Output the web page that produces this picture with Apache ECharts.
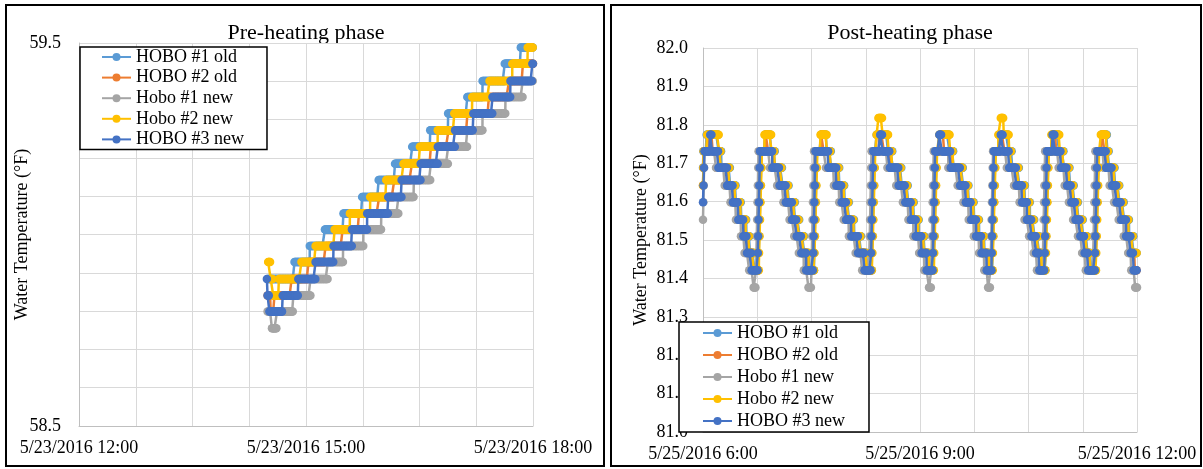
<!DOCTYPE html>
<html>
<head>
<meta charset="utf-8">
<script src="https://cdn.jsdelivr.net/npm/echarts@6.0.0/dist/echarts.min.js"></script>
<style>
html,body{margin:0;padding:0;background:#fff;}
#chart{width:1203px;height:469px;}
</style>
</head>
<body>
<div id="chart"></div>
<script>
// ---------- DATA ----------
const seriesNames = ['HOBO #1 old', 'HOBO #2 old', 'Hobo #1 new', 'Hobo #2 new', 'HOBO #3 new'];
const preTickLabels = ['5/23/2016 12:00', '5/23/2016 15:00', '5/23/2016 18:00'];
const postTickLabels = ['5/25/2016 6:00', '5/25/2016 9:00', '5/25/2016 12:00'];
const preTitle = 'Pre-heating phase';
const postTitle = 'Post-heating phase';
const yName = 'Water Temperature (°F)';

// Logger records: [minutes after start of window, reading held from that time], one reading every 0.5 min
const READ_STEP = 0.5;
const WINDOW_END = 360;

// Pre-heating, minutes after 5/23/2016 12:00
const preHobo1Old = [[149.5,58.884],[170.9,58.928],[183,58.970],[195,59.013],[209.7,59.055],[224.5,59.098],[237.6,59.142],[250.6,59.185],[264.2,59.229],[278.5,59.272],[292.7,59.316],[307.9,59.359],[320,59.401],[337.6,59.446],[350.3,59.488]];
const preHobo2Old = [[149.5,58.841],[152,58.799],[155,58.841],[168.6,58.884],[182,58.928],[195.5,58.970],[209,59.013],[222,59.055],[238,59.098],[250,59.142],[264,59.185],[279,59.229],[293,59.272],[308,59.316],[325,59.359],[341,59.401],[352,59.446]];
const preHobo1New = [[149.5,58.799],[153,58.755],[157,58.799],[170,58.841],[183.6,58.884],[197.3,58.928],[209.4,58.970],[225.5,59.013],[239.7,59.055],[253.3,59.098],[265.5,59.142],[279,59.185],[292.7,59.229],[307.9,59.272],[320,59.316],[338.2,59.359],[351.8,59.401]];
const preHobo2New = [[150,58.928],[152,58.884],[154,58.841],[158.5,58.884],[176.4,58.928],[187.6,58.970],[202.7,59.013],[214.8,59.055],[230.9,59.098],[243.6,59.142],[257.3,59.185],[270.3,59.229],[284.5,59.272],[297.6,59.316],[311.8,59.359],[325.5,59.401],[343.6,59.446],[355.8,59.488]];
const preHobo3New = [[149,58.884],[149.5,58.841],[151,58.799],[161.5,58.841],[173.9,58.884],[187.6,58.928],[201.8,58.970],[216.4,59.013],[228.5,59.055],[245.2,59.098],[255.8,59.142],[270.9,59.185],[284.5,59.229],[298.2,59.272],[312.7,59.316],[327.9,59.359],[342.1,59.401],[359.5,59.446]];

// Post-heating, minutes after 5/25/2016 6:00
const postHobo1Old = [
[0,81.688],[0.3,81.731],[3,81.774],[13,81.731],[15.3,81.688],[22.5,81.642],[27.3,81.598],[31.8,81.553],[36,81.510],[39,81.466],[42.8,81.421],
[46.2,81.466],[46.6,81.510],[47,81.553],[47.4,81.598],[47.8,81.642],[48.2,81.688],[48.6,81.731],[51.5,81.774],[56.5,81.731],[60,81.688],[66,81.642],[71.2,81.598],[76.3,81.553],[80.2,81.510],[84,81.466],[88.1,81.421],
[92.2,81.466],[92.6,81.510],[93,81.553],[93.4,81.598],[93.8,81.642],[94.2,81.688],[94.6,81.731],[98,81.774],[102.5,81.731],[106.5,81.688],[113.1,81.642],[117.5,81.598],[121.2,81.553],[125.5,81.510],[131.1,81.466],[136.5,81.421],
[140.2,81.466],[140.6,81.510],[141,81.553],[141.4,81.598],[141.8,81.642],[142.2,81.688],[142.6,81.731],[144,81.774],[153.5,81.731],[157.5,81.688],[164.8,81.642],[170.3,81.598],[174.9,81.553],[179,81.510],[183.8,81.466],[188,81.421],
[191.5,81.466],[191.9,81.510],[192.3,81.553],[192.7,81.598],[193.1,81.642],[193.5,81.688],[193.9,81.731],[196.5,81.774],[204.5,81.731],[208,81.688],[215.7,81.642],[220.5,81.598],[224.9,81.553],[229.1,81.510],[233.5,81.466],[237.8,81.421],
[240.2,81.466],[240.6,81.510],[241,81.553],[241.4,81.598],[241.8,81.642],[242.2,81.688],[242.6,81.731],[245.5,81.774],[253.5,81.731],[256.5,81.688],[262.5,81.642],[267.1,81.598],[271.2,81.553],[275,81.510],[278.8,81.466],[281.5,81.421],
[284.2,81.466],[284.6,81.510],[285,81.553],[285.4,81.598],[285.8,81.642],[286.2,81.688],[286.6,81.731],[289.5,81.774],[295.5,81.731],[299.5,81.688],[304.5,81.642],[308,81.598],[311.5,81.553],[315.5,81.510],[319,81.466],[322,81.421],
[325.9,81.466],[326.3,81.510],[326.7,81.553],[327.1,81.598],[327.5,81.642],[327.9,81.688],[328.3,81.731],[330.5,81.774],[335.5,81.731],[336.9,81.688],[341.8,81.642],[345.5,81.598],[349.3,81.553],[353.5,81.510],[357.2,81.466]];
const postHobo2Old = [
[0,81.642],[0.4,81.688],[0.8,81.731],[5,81.774],[8,81.731],[13.8,81.688],[21,81.642],[25.8,81.598],[30.3,81.553],[34.5,81.510],[37.5,81.466],[41.3,81.421],
[46,81.466],[46.3,81.510],[46.6,81.553],[46.9,81.598],[47.2,81.642],[47.5,81.688],[47.8,81.731],[52,81.774],[54,81.731],[58.5,81.688],[64.5,81.642],[69.7,81.598],[74.8,81.553],[78.7,81.510],[82.5,81.466],[86.6,81.421],
[92,81.466],[92.3,81.510],[92.6,81.553],[92.9,81.598],[93.2,81.642],[93.5,81.688],[93.8,81.731],[98,81.774],[100,81.731],[105,81.688],[111.6,81.642],[116,81.598],[119.7,81.553],[124,81.510],[129.6,81.466],[135,81.421],
[140,81.466],[140.3,81.510],[140.6,81.553],[140.9,81.598],[141.2,81.642],[141.5,81.688],[141.8,81.731],[146,81.774],[150,81.731],[156,81.688],[163.3,81.642],[168.8,81.598],[173.4,81.553],[177.5,81.510],[182.3,81.466],[186.5,81.421],
[191.3,81.466],[191.6,81.510],[191.9,81.553],[192.2,81.598],[192.5,81.642],[192.8,81.688],[193.1,81.731],[197,81.774],[200,81.731],[206.5,81.688],[214.2,81.642],[219,81.598],[223.4,81.553],[227.6,81.510],[232,81.466],[236.3,81.421],
[240,81.466],[240.3,81.510],[240.6,81.553],[240.9,81.598],[241.2,81.642],[241.5,81.688],[241.8,81.731],[246,81.774],[250,81.731],[255,81.688],[261,81.642],[265.6,81.598],[269.7,81.553],[273.5,81.510],[277.3,81.466],[280,81.421],
[284,81.466],[284.3,81.510],[284.6,81.553],[284.9,81.598],[285.2,81.642],[285.5,81.688],[285.8,81.731],[290,81.774],[293,81.731],[298,81.688],[303,81.642],[306.5,81.598],[310,81.553],[314,81.510],[317.5,81.466],[320.5,81.421],
[325.7,81.466],[326,81.510],[326.3,81.553],[326.6,81.598],[326.9,81.642],[327.2,81.688],[327.5,81.731],[331,81.774],[333,81.731],[335.4,81.688],[340.3,81.642],[344,81.598],[347.8,81.553],[352,81.510],[355.7,81.466],[358.2,81.421]];
const postHobo1New = [
[0,81.553],[0.3,81.598],[0.6,81.642],[0.9,81.688],[1.2,81.731],[10.8,81.688],[18,81.642],[22.8,81.598],[27.3,81.553],[31.5,81.510],[34.5,81.466],[38.3,81.421],[42,81.376],
[44,81.421],[44.3,81.466],[44.6,81.510],[44.9,81.553],[45.2,81.598],[45.5,81.642],[45.8,81.688],[46.1,81.731],[55.5,81.688],[61.5,81.642],[66.7,81.598],[71.8,81.553],[75.7,81.510],[79.5,81.466],[83.6,81.421],[87.5,81.376],
[90,81.421],[90.3,81.466],[90.6,81.510],[90.9,81.553],[91.2,81.598],[91.5,81.642],[91.8,81.688],[92.1,81.731],[102,81.688],[108.6,81.642],[113,81.598],[116.7,81.553],[121,81.510],[126.6,81.466],[132,81.421],
[138,81.466],[138.3,81.510],[138.6,81.553],[138.9,81.598],[139.2,81.642],[139.5,81.688],[139.8,81.731],[153,81.688],[160.3,81.642],[165.8,81.598],[170.4,81.553],[174.5,81.510],[179.3,81.466],[183.5,81.421],[187.5,81.376],
[189.3,81.421],[189.6,81.466],[189.9,81.510],[190.2,81.553],[190.5,81.598],[190.8,81.642],[191.1,81.688],[191.4,81.731],[203.5,81.688],[211.2,81.642],[216,81.598],[220.4,81.553],[224.6,81.510],[229,81.466],[233.3,81.421],[236.5,81.376],
[238.5,81.421],[238.8,81.466],[239.1,81.510],[239.4,81.553],[239.7,81.598],[240,81.642],[240.3,81.688],[240.6,81.731],[252,81.688],[258,81.642],[262.6,81.598],[266.7,81.553],[270.5,81.510],[274.3,81.466],[277,81.421],
[282,81.466],[282.3,81.510],[282.6,81.553],[282.9,81.598],[283.2,81.642],[283.5,81.688],[283.8,81.731],[295,81.688],[300,81.642],[303.5,81.598],[307,81.553],[311,81.510],[314.5,81.466],[317.5,81.421],
[323.7,81.466],[324,81.510],[324.3,81.553],[324.6,81.598],[324.9,81.642],[325.2,81.688],[325.5,81.731],[332.4,81.688],[337.3,81.642],[341,81.598],[344.8,81.553],[349,81.510],[352.7,81.466],[355.2,81.421],[358.5,81.376]];
const postHobo2New = [
[0,81.642],[0.3,81.688],[0.6,81.731],[3.5,81.774],[13.5,81.731],[14.8,81.688],[22,81.642],[26.8,81.598],[31.3,81.553],[35.5,81.510],[38.5,81.466],[42.3,81.421],
[46.5,81.466],[46.9,81.510],[47.3,81.553],[47.7,81.598],[48.1,81.642],[48.5,81.688],[48.9,81.731],[51,81.774],[57,81.731],[59.5,81.688],[65.5,81.642],[70.7,81.598],[75.8,81.553],[79.7,81.510],[83.5,81.466],[87.6,81.421],
[92.5,81.466],[92.9,81.510],[93.3,81.553],[93.7,81.598],[94.1,81.642],[94.5,81.688],[94.9,81.731],[97.5,81.774],[103,81.731],[106,81.688],[112.6,81.642],[117,81.598],[120.7,81.553],[125,81.510],[130.6,81.466],[136,81.421],
[140.5,81.466],[140.9,81.510],[141.3,81.553],[141.7,81.598],[142.1,81.642],[142.5,81.688],[142.9,81.731],[144,81.774],[145.5,81.818],[149,81.774],[154,81.731],[157,81.688],[164.3,81.642],[169.8,81.598],[174.4,81.553],[178.5,81.510],[183.3,81.466],[187.5,81.421],
[191.8,81.466],[192.2,81.510],[192.6,81.553],[193,81.598],[193.4,81.642],[193.8,81.688],[194.2,81.731],[196,81.774],[205,81.731],[207.5,81.688],[215.2,81.642],[220,81.598],[224.4,81.553],[228.6,81.510],[233,81.466],[237.3,81.421],
[240.5,81.466],[240.9,81.510],[241.3,81.553],[241.7,81.598],[242.1,81.642],[242.5,81.688],[242.9,81.731],[245,81.774],[247,81.818],[249.5,81.774],[254,81.731],[256,81.688],[262,81.642],[266.6,81.598],[270.7,81.553],[274.5,81.510],[278.3,81.466],[281,81.421],
[284.5,81.466],[284.9,81.510],[285.3,81.553],[285.7,81.598],[286.1,81.642],[286.5,81.688],[286.9,81.731],[289,81.774],[296,81.731],[299,81.688],[304,81.642],[307.5,81.598],[311,81.553],[315,81.510],[318.5,81.466],[321.5,81.421],
[326.2,81.466],[326.6,81.510],[327,81.553],[327.4,81.598],[327.8,81.642],[328.2,81.688],[328.6,81.731],[330,81.774],[335,81.731],[336.4,81.688],[341.3,81.642],[345,81.598],[348.8,81.553],[353,81.510],[356.7,81.466]];
const postHobo3New = [
[0,81.598],[0.4,81.642],[0.8,81.688],[1.2,81.731],[6,81.774],[7.5,81.731],[12.8,81.688],[20,81.642],[24.8,81.598],[29.3,81.553],[33.5,81.510],[36.5,81.466],[40.3,81.421],
[45.5,81.466],[45.8,81.510],[46.1,81.553],[46.4,81.598],[46.7,81.642],[47,81.688],[47.3,81.731],[57.5,81.688],[63.5,81.642],[68.7,81.598],[73.8,81.553],[77.7,81.510],[81.5,81.466],[85.6,81.421],
[91.5,81.466],[91.8,81.510],[92.1,81.553],[92.4,81.598],[92.7,81.642],[93,81.688],[93.3,81.731],[104,81.688],[110.6,81.642],[115,81.598],[118.7,81.553],[123,81.510],[128.6,81.466],[134,81.421],
[139.5,81.466],[139.8,81.510],[140.1,81.553],[140.4,81.598],[140.7,81.642],[141,81.688],[141.3,81.731],[147,81.774],[149,81.731],[155,81.688],[162.3,81.642],[167.8,81.598],[172.4,81.553],[176.5,81.510],[181.3,81.466],[185.5,81.421],
[190.8,81.466],[191.1,81.510],[191.4,81.553],[191.7,81.598],[192,81.642],[192.3,81.688],[192.6,81.731],[196,81.774],[198,81.731],[205.5,81.688],[213.2,81.642],[218,81.598],[222.4,81.553],[226.6,81.510],[231,81.466],[235.3,81.421],
[239.5,81.466],[239.8,81.510],[240.1,81.553],[240.4,81.598],[240.7,81.642],[241,81.688],[241.3,81.731],[247,81.774],[249,81.731],[254,81.688],[260,81.642],[264.6,81.598],[268.7,81.553],[272.5,81.510],[276.3,81.466],[279,81.421],
[283.5,81.466],[283.8,81.510],[284.1,81.553],[284.4,81.598],[284.7,81.642],[285,81.688],[285.3,81.731],[290,81.774],[292,81.731],[297,81.688],[302,81.642],[305.5,81.598],[309,81.553],[313,81.510],[316.5,81.466],[319.5,81.421],
[325.2,81.466],[325.5,81.510],[325.8,81.553],[326.1,81.598],[326.4,81.642],[326.7,81.688],[327,81.731],[334.4,81.688],[339.3,81.642],[343,81.598],[346.8,81.553],[351,81.510],[354.7,81.466],[357.2,81.421]];

const preData = [preHobo1Old, preHobo2Old, preHobo1New, preHobo2New, preHobo3New];
const postData = [postHobo1Old, postHobo2Old, postHobo1New, postHobo2New, postHobo3New];

// ---------- STYLE ----------
const COLORS = ['#5B9BD5', '#ED7D31', '#A5A5A5', '#FFC000', '#4472C4'];
const FONT = '"Liberation Serif", "Times New Roman", serif';

// each held value is logged once every READ_STEP minutes until the next change
function readings(changes, end) {
  const pts = [];
  for (let i = 0; i < changes.length; i++) {
    const t0 = changes[i][0], v = changes[i][1];
    const t1 = i + 1 < changes.length ? changes[i + 1][0] : end + 0.001;
    for (let t = t0; t < t1 - 1e-6; t += READ_STEP) pts.push([t, v]);
  }
  return pts;
}

function near(a, b) { return Math.abs(a - b) < 1e-6; }

function xAxisCfg(idx, labels) {
  return {
    gridIndex: idx, type: 'value', min: 0, max: WINDOW_END, interval: 45,
    axisLine: { show: true, onZero: false, lineStyle: { color: '#bfbfbf', width: 1 } },
    axisTick: { show: false },
    splitLine: { show: true, lineStyle: { color: '#d9d9d9', width: 1 } },
    axisLabel: {
      show: true, margin: 13, fontSize: 18, fontFamily: FONT, color: '#000',
      showMinLabel: true, showMaxLabel: true, hideOverlap: false,
      formatter: function (v) { return near(v % 180, 0) ? labels[Math.round(v / 180)] : ''; }
    }
  };
}

const series = [];
seriesNames.forEach(function (name, i) {
  series.push({
    name: name, type: 'line', xAxisIndex: 0, yAxisIndex: 0,
    data: readings(preData[i], WINDOW_END),
    symbol: 'circle', symbolSize: 8.5, showSymbol: true,
    lineStyle: { color: COLORS[i], width: 2.5 },
    itemStyle: { color: COLORS[i] },
    z: 2 + i, silent: true, animation: false, emphasis: { disabled: true }
  });
});
seriesNames.forEach(function (name, i) {
  series.push({
    name: name, type: 'line', xAxisIndex: 1, yAxisIndex: 1,
    data: readings(postData[i], WINDOW_END),
    symbol: 'circle', symbolSize: 8.5, showSymbol: true,
    lineStyle: { color: COLORS[i], width: 2.5 },
    itemStyle: { color: COLORS[i] },
    z: 2 + i, silent: true, animation: false, emphasis: { disabled: true }
  });
});

const legendBase = {
  orient: 'vertical', data: seriesNames, selectedMode: false,
  itemWidth: 29, itemHeight: 10,
  backgroundColor: '#fff', borderColor: '#000', borderWidth: 1.5,
  textStyle: { fontSize: 18, fontFamily: FONT, color: '#000' },
  z: 20
};

const option = {
  animation: false,
  backgroundColor: '#fff',
  graphic: [
    { type: 'rect', silent: true, shape: { x: 6, y: 5, width: 598, height: 461 }, style: { fill: 'none', stroke: '#000', lineWidth: 2 } },
    { type: 'rect', silent: true, shape: { x: 611, y: 5, width: 590, height: 461 }, style: { fill: 'none', stroke: '#000', lineWidth: 2 } },
    { type: 'text', silent: true, x: 306, y: 33, style: { text: preTitle, font: '22px ' + FONT, fill: '#000', align: 'center', verticalAlign: 'middle' } },
    { type: 'text', silent: true, x: 910, y: 33, style: { text: postTitle, font: '22px ' + FONT, fill: '#000', align: 'center', verticalAlign: 'middle' } }
  ],
  grid: [
    { left: 79, top: 43, width: 454, height: 383 },
    { left: 703, top: 48, width: 434, height: 384 }
  ],
  xAxis: [xAxisCfg(0, preTickLabels), xAxisCfg(1, postTickLabels)],
  yAxis: [
    {
      gridIndex: 0, type: 'value', min: 58.5, max: 59.5, interval: 0.1,
      axisLine: { show: true, lineStyle: { color: '#bfbfbf', width: 1 } },
      axisTick: { show: false },
      splitLine: { show: true, lineStyle: { color: '#d9d9d9', width: 1 } },
      axisLabel: {
        margin: 18, fontSize: 18, fontFamily: FONT, color: '#000',
        formatter: function (v) { return (near(v, 58.5) || near(v, 59.5)) ? v.toFixed(1) : ''; }
      },
      name: yName, nameLocation: 'middle', nameGap: 48, nameMoveOverlap: false,
      nameTextStyle: { fontSize: 18, fontFamily: FONT, color: '#000' }
    },
    {
      gridIndex: 1, type: 'value', min: 81, max: 82, interval: 0.1,
      axisLine: { show: true, lineStyle: { color: '#bfbfbf', width: 1 } },
      axisTick: { show: false },
      splitLine: { show: true, lineStyle: { color: '#d9d9d9', width: 1 } },
      axisLabel: {
        margin: 15, fontSize: 18, fontFamily: FONT, color: '#000',
        formatter: function (v) { return v.toFixed(1); }
      },
      name: yName, nameLocation: 'middle', nameGap: 53, nameMoveOverlap: false,
      nameTextStyle: { fontSize: 18, fontFamily: FONT, color: '#000' }
    }
  ],
  legend: [
    Object.assign({}, legendBase, { left: 80, top: 47, itemGap: 2.6, padding: [1, 23, 1, 21] }),
    Object.assign({}, legendBase, { left: 679, top: 322, itemGap: 4, padding: [2, 24, 2, 23] })
  ],
  series: series
};

const chart = echarts.init(document.getElementById('chart'), null, { renderer: 'canvas' });
chart.setOption(option);
</script>
</body>
</html>
